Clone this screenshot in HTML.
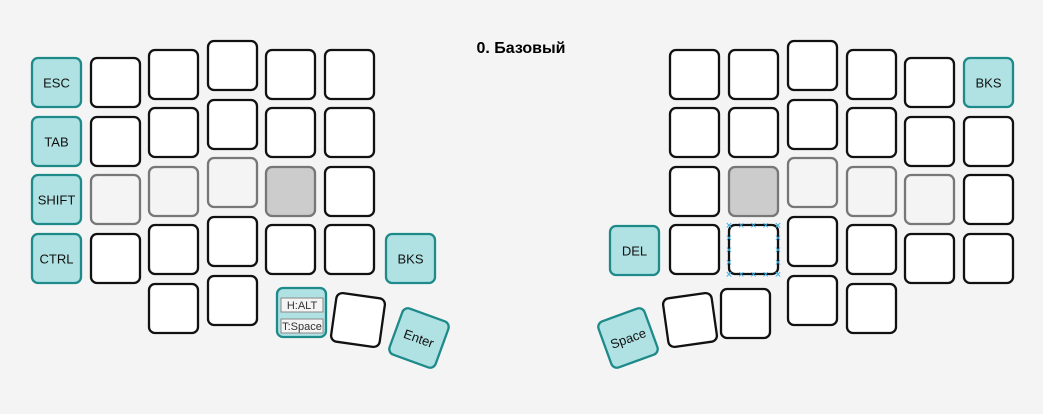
<!DOCTYPE html>
<html><head><meta charset="utf-8"><style>
body{margin:0;background:#f4f4f4;width:1043px;height:414px;overflow:hidden}
svg{display:block}
text{font-family:"Liberation Sans",sans-serif}
</style></head><body>
<svg width="1043" height="414" viewBox="0 0 1043 414">
<rect width="1043" height="414" fill="#f4f4f4"/>
<text x="521" y="53" text-anchor="middle" font-size="16" font-weight="bold" fill="#000">0. Базовый</text>
<g id="keys"></g>
</svg>
<script>
const keys=[
[31,57,'t','ESC'],[31,116,'t','TAB'],[31,174,'t','SHIFT'],[31,233,'t','CTRL'],
[90,57,'w'],[90,116,'w'],[90,174,'l'],[90,233,'w'],
[148,49,'w'],[148,107,'w'],[148,166,'l'],[148,224,'w'],[148,283,'w'],
[207,40,'w'],[207,99,'w'],[207,157,'l'],[207,216,'w'],[207,275,'w'],
[265,49,'w'],[265,107,'w'],[265,166,'g'],[265,224,'w'],
[324,49,'w'],[324,107,'w'],[324,166,'w'],[324,224,'w'],
[385,233,'t','BKS'],
[669,49,'w'],[669,107,'w'],[669,166,'w'],[669,224,'w'],
[728,49,'w'],[728,107,'w'],[728,166,'g'],[728,224,'d'],
[787,40,'w'],[787,99,'w'],[787,157,'l'],[787,216,'w'],[787,275,'w'],
[846,49,'w'],[846,107,'w'],[846,166,'l'],[846,224,'w'],[846,283,'w'],
[904,57,'w'],[904,116,'w'],[904,174,'l'],[904,233,'w'],
[963,57,'t','BKS'],[963,116,'w'],[963,174,'w'],[963,233,'w'],
[609,225,'t','DEL'],
[720,288,'w']
];
const rotated=[[358,320,8,'w'],[419,338,20,'t','Enter'],[690,320,-8,'w'],[628,338,-20,'t','Space']];
const NS='http://www.w3.org/2000/svg';
const g=document.getElementById('keys');
const styles={w:['#fff','#111'],l:['#f4f4f4','#777'],g:['#cccccc','#777'],t:['#b0e2e4','#1e8a8a'],d:['#fff','#111']};
function key(parent,x,y,type,label){
  const grp=document.createElementNS(NS,'g');
  
  
  const r=document.createElementNS(NS,'rect');
  r.setAttribute('x',x+1);r.setAttribute('y',y+1);r.setAttribute('width',49);r.setAttribute('height',49);
  r.setAttribute('rx',6);r.setAttribute('fill',styles[type][0]);r.setAttribute('stroke',styles[type][1]);r.setAttribute('stroke-width',2.3);
  grp.appendChild(r);
  if(label){const t=document.createElementNS(NS,'text');t.setAttribute('x',x+25.5);t.setAttribute('y',y+30.5);
    t.setAttribute('text-anchor','middle');t.setAttribute('font-size','13');t.setAttribute('fill','#111');t.textContent=label;grp.appendChild(t);}
  if(type==='d'){
    for(let i=0;i<5;i++){for(const p of [[x+1+i*12.25,y+1],[x+1+i*12.25,y+50],[x+1,y+1+i*12.25],[x+50,y+1+i*12.25]]){
      const m=document.createElementNS(NS,'text');m.setAttribute('x',p[0]);m.setAttribute('y',p[1]+4);m.setAttribute('text-anchor','middle');
      m.setAttribute('font-size','11');m.setAttribute('fill','#3ab0e8');m.textContent='×';grp.appendChild(m);}}
  }
  parent.appendChild(grp);
}
keys.forEach(k=>key(g,k[0],k[1],k[2],k[3]));
rotated.forEach(k=>{const w=document.createElementNS(NS,'g');
  w.setAttribute('transform','rotate('+k[2]+' '+k[0]+' '+k[1]+')');g.appendChild(w);key(w,k[0]-25.5,k[1]-25.5,k[3],k[4]);});
const ht=document.createElementNS(NS,'g');


ht.innerHTML='<rect x="277" y="288" width="49" height="49" rx="6" fill="#b0e2e4" stroke="#1e8a8a" stroke-width="2.3"/>'+
'<rect x="281" y="298" width="42" height="14" fill="#f4f4f4" stroke="#888" stroke-width="1"/><text x="302" y="309" text-anchor="middle" font-size="11" fill="#333">H:ALT</text>'+
'<rect x="281" y="319" width="42" height="14" fill="#f4f4f4" stroke="#888" stroke-width="1"/><text x="302" y="330" text-anchor="middle" font-size="11" fill="#333">T:Space</text>';
g.appendChild(ht);
</script>
</body></html>
